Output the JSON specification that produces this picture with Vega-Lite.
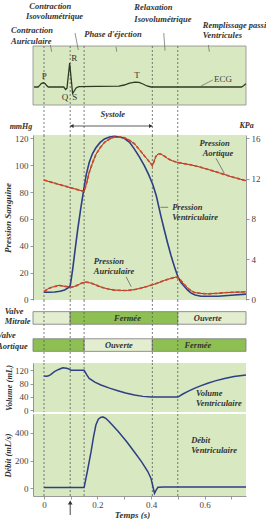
{
"$schema": "https://vega.github.io/schema/vega-lite/v6.json",
"padding": {"left": -4, "top": 0, "right": 0, "bottom": 0},
"bounds": "flush",
"spacing": 0,
"config": {
  "view": {"stroke": null},
  "font": "Liberation Serif",
  "axis": {"labelFont": "Liberation Serif", "labelFontSize": 9, "labelColor": "#444", "domainColor": "#808080", "tickColor": "#808080", "tickSize": 3, "labelPadding": 2, "labelOverlap": false, "labelFlush": false, "grid": false, "titleFont": "Liberation Serif", "titleFontStyle": "italic", "titleFontWeight": "bold", "titleFontSize": 9, "titleColor": "#333", "domainWidth": 0.8, "tickWidth": 0.8}
},
"datasets": {
  "phases": [{"t": 0}, {"t": 0.098}, {"t": 0.15}, {"t": 0.405}, {"t": 0.5}],
  "ecg": [{"t":-0.037,"mv":0},{"t":-0.022,"mv":0},{"t":-0.016,"mv":0.08},{"t":-0.01,"mv":0.17},{"t":-0.003,"mv":0.21},{"t":0.004,"mv":0.17},{"t":0.01,"mv":0.07},{"t":0.016,"mv":0},{"t":0.074,"mv":0},{"t":0.081,"mv":-0.13},{"t":0.086,"mv":-0.06},{"t":0.096,"mv":1.2},{"t":0.107,"mv":-0.33},{"t":0.113,"mv":-0.2},{"t":0.12,"mv":-0.05},{"t":0.13,"mv":0.02},{"t":0.2,"mv":0.03},{"t":0.28,"mv":0.04},{"t":0.3,"mv":0.1},{"t":0.32,"mv":0.19},{"t":0.34,"mv":0.24},{"t":0.355,"mv":0.23},{"t":0.37,"mv":0.15},{"t":0.385,"mv":0.05},{"t":0.4,"mv":0},{"t":0.738,"mv":0},{"t":0.746,"mv":0.06},{"t":0.752,"mv":0.14},{"t":0.755,"mv":0.16}],
  "pv": [{"t":0,"p":5.4},{"t":0.02,"p":5.3},{"t":0.04,"p":5.5},{"t":0.06,"p":6},{"t":0.077,"p":7},{"t":0.09,"p":8.5},{"t":0.098,"p":10},{"t":0.107,"p":22},{"t":0.117,"p":38},{"t":0.126,"p":52},{"t":0.137,"p":67},{"t":0.148,"p":81},{"t":0.158,"p":93},{"t":0.169,"p":102},{"t":0.181,"p":108.5},{"t":0.194,"p":113},{"t":0.21,"p":117},{"t":0.226,"p":119.6},{"t":0.245,"p":121},{"t":0.263,"p":121.5},{"t":0.282,"p":121},{"t":0.3,"p":120},{"t":0.32,"p":117},{"t":0.338,"p":112},{"t":0.357,"p":106},{"t":0.375,"p":99.6},{"t":0.39,"p":93.5},{"t":0.406,"p":86},{"t":0.42,"p":77},{"t":0.437,"p":62},{"t":0.45,"p":51.5},{"t":0.462,"p":42},{"t":0.475,"p":32.5},{"t":0.487,"p":24.6},{"t":0.5,"p":17},{"t":0.512,"p":12.5},{"t":0.525,"p":9.6},{"t":0.537,"p":6.8},{"t":0.55,"p":4.6},{"t":0.565,"p":3.2},{"t":0.587,"p":2.3},{"t":0.65,"p":2.3},{"t":0.7,"p":3},{"t":0.755,"p":3.9}],
  "pa": [{"t":0,"p":88.9},{"t":0.05,"p":86},{"t":0.1,"p":83.2},{"t":0.15,"p":80.4},{"t":0.16,"p":87},{"t":0.169,"p":94.6},{"t":0.181,"p":101.5},{"t":0.194,"p":108},{"t":0.21,"p":113},{"t":0.226,"p":117},{"t":0.245,"p":119.5},{"t":0.263,"p":121},{"t":0.282,"p":121},{"t":0.3,"p":120.5},{"t":0.32,"p":118.5},{"t":0.338,"p":116},{"t":0.357,"p":111.5},{"t":0.375,"p":107},{"t":0.39,"p":103.5},{"t":0.4,"p":101},{"t":0.405,"p":99.6},{"t":0.41,"p":102},{"t":0.418,"p":106.5},{"t":0.426,"p":108.3},{"t":0.434,"p":108.5},{"t":0.448,"p":107},{"t":0.462,"p":105},{"t":0.48,"p":103.2},{"t":0.5,"p":102},{"t":0.55,"p":100.2},{"t":0.587,"p":98.4},{"t":0.65,"p":94.6},{"t":0.7,"p":91.4},{"t":0.755,"p":88.4}],
  "pau": [{"t":0,"p":5.9},{"t":0.015,"p":7.8},{"t":0.031,"p":9.1},{"t":0.056,"p":10.4},{"t":0.08,"p":9.6},{"t":0.1,"p":8.9},{"t":0.113,"p":9.5},{"t":0.126,"p":10.6},{"t":0.14,"p":12},{"t":0.157,"p":12.9},{"t":0.176,"p":12.1},{"t":0.195,"p":10.6},{"t":0.213,"p":9.1},{"t":0.24,"p":7.7},{"t":0.263,"p":6.9},{"t":0.29,"p":6.6},{"t":0.313,"p":6.6},{"t":0.34,"p":7.3},{"t":0.363,"p":8.4},{"t":0.385,"p":9.6},{"t":0.406,"p":10.9},{"t":0.43,"p":12.5},{"t":0.45,"p":14.1},{"t":0.475,"p":15.6},{"t":0.493,"p":16.6},{"t":0.506,"p":15.4},{"t":0.52,"p":12},{"t":0.537,"p":8.4},{"t":0.55,"p":6.4},{"t":0.562,"p":5.1},{"t":0.585,"p":4.4},{"t":0.612,"p":4.1},{"t":0.65,"p":4.5},{"t":0.687,"p":5.1},{"t":0.755,"p":5.6}],
  "vol": [{"t":0,"v":102.7},{"t":0.008,"v":102},{"t":0.015,"v":102.5},{"t":0.025,"v":107},{"t":0.039,"v":115.7},{"t":0.055,"v":122.5},{"t":0.07,"v":127.8},{"t":0.085,"v":126},{"t":0.096,"v":123},{"t":0.1,"v":120},{"t":0.15,"v":120},{"t":0.16,"v":106},{"t":0.169,"v":95.6},{"t":0.19,"v":84},{"t":0.213,"v":75.5},{"t":0.245,"v":66},{"t":0.276,"v":58.4},{"t":0.305,"v":51.5},{"t":0.338,"v":45.3},{"t":0.37,"v":41.2},{"t":0.4,"v":39.2},{"t":0.45,"v":39},{"t":0.5,"v":39},{"t":0.505,"v":41.5},{"t":0.519,"v":48.3},{"t":0.54,"v":57},{"t":0.562,"v":65.5},{"t":0.585,"v":73},{"t":0.612,"v":80.6},{"t":0.64,"v":88},{"t":0.675,"v":95},{"t":0.71,"v":101},{"t":0.755,"v":106}],
  "deb": [{"t":0,"q":3},{"t":0.15,"q":3},{"t":0.162,"q":120},{"t":0.176,"q":264},{"t":0.185,"q":370},{"t":0.194,"q":458},{"t":0.203,"q":500},{"t":0.213,"q":515},{"t":0.222,"q":516},{"t":0.232,"q":505},{"t":0.245,"q":480},{"t":0.276,"q":415},{"t":0.31,"q":335},{"t":0.338,"q":262},{"t":0.365,"q":190},{"t":0.388,"q":120},{"t":0.4,"q":70},{"t":0.406,"q":20},{"t":0.413,"q":-39},{"t":0.419,"q":-15},{"t":0.426,"q":5},{"t":0.45,"q":8},{"t":0.755,"q":8}],
  "valves": [{"valve":"Mitrale","t1":-0.041,"t2":0.098,"etat":"Ouverte","label":"","lt":0},{"valve":"Mitrale","t1":0.098,"t2":0.5,"etat":"Fermée","label":"Fermée","lt":0.312},{"valve":"Mitrale","t1":0.5,"t2":0.755,"etat":"Ouverte","label":"Ouverte","lt":0.612},{"valve":"Aortique","t1":-0.041,"t2":0.15,"etat":"Fermée","label":"","lt":0},{"valve":"Aortique","t1":0.15,"t2":0.405,"etat":"Ouverte","label":"Ouverte","lt":0.28},{"valve":"Aortique","t1":0.405,"t2":0.755,"etat":"Fermée","label":"Fermée","lt":0.575}]
},
"vconcat": [
 {
  "width": 213, "height": 135,
  "layer": [
   {"data": {"values": [{}]}, "mark": {"type": "rect", "fill": "#d8e8c0", "stroke": "#8c8c8c", "strokeWidth": 0.8},
    "encoding": {"x": {"datum": -0.041, "type": "quantitative", "scale": {"domain": [-0.041, 0.755], "nice": false, "zero": false}, "axis": null}, "x2": {"datum": 0.755},
                 "y": {"datum": -0.9, "type": "quantitative", "scale": {"domain": [-2.4, 4.35], "nice": false, "zero": false}, "axis": null}, "y2": {"datum": 2.05}}},
   {"data": {"name": "phases"}, "mark": {"type": "rule", "color": "#5a5a5a", "strokeWidth": 0.8, "strokeDash": [2, 2]},
    "encoding": {"x": {"field": "t", "type": "quantitative", "axis": null}, "y": {"datum": 2.05, "type": "quantitative", "axis": null}, "y2": {"datum": -2.4}}},
   {"data": {"name": "ecg"}, "mark": {"type": "line", "color": "#2f3a24", "strokeWidth": 1.3},
    "encoding": {"x": {"field": "t", "type": "quantitative", "axis": null}, "y": {"field": "mv", "type": "quantitative", "axis": null}}},
   {"data": {"values": [{"t1":0.0237,"v1":2.1,"t2":0.0289,"v2":1.765},{"t1":0.116,"v1":2.7,"t2":0.1283,"v2":1.85},{"t1":0.2693,"v1":2.015,"t2":0.2719,"v2":1.765},{"t1":0.4476,"v1":2.7,"t2":0.4524,"v2":1.815},{"t1":0.6143,"v1":2.1,"t2":0.618,"v2":1.765},{"t1":0.587,"v1":0.05,"t2":0.6308,"v2":0.35}]},
    "mark": {"type": "rule", "color": "#666", "strokeWidth": 0.7},
    "encoding": {"x": {"field": "t1", "type": "quantitative", "axis": null}, "x2": {"field": "t2"}, "y": {"field": "v1", "type": "quantitative", "axis": null}, "y2": {"field": "v2"}}},
   {"data": {"values": [{"t":-0.0548,"v":4.065,"text":"Contraction"},{"t":-0.0672,"v":3.565,"text":"Isovolumétrique"},{"t":0.3377,"v":4.0,"text":"Relaxation"},{"t":0.3377,"v":3.415,"text":"Isovolumétrique"},{"t":-0.1232,"v":2.85,"text":"Contraction"},{"t":-0.1232,"v":2.3,"text":"Auriculaire"},{"t":0.1508,"v":2.635,"text":"Phase d'éjection"},{"t":0.5934,"v":3.1,"text":"Remplissage passif"},{"t":0.5934,"v":2.6,"text":"Ventricules"}]},
    "mark": {"type": "text", "align": "left", "baseline": "middle", "font": "Liberation Serif", "fontStyle": "italic", "fontWeight": "bold", "fontSize": 8.5, "color": "#333"},
    "encoding": {"x": {"field": "t", "type": "quantitative", "axis": null}, "y": {"field": "v", "type": "quantitative", "axis": null}, "text": {"field": "text"}}},
   {"data": {"values": [{"t":0.0012,"v":0.55,"text":"P"},{"t":0.1134,"v":1.435,"text":"R"},{"t":0.0786,"v":-0.485,"text":"Q"},{"t":0.1148,"v":-0.485,"text":"S"},{"t":0.3478,"v":0.6,"text":"T"}]},
    "mark": {"type": "text", "align": "center", "baseline": "middle", "font": "Liberation Serif", "fontSize": 9, "color": "#333"},
    "encoding": {"x": {"field": "t", "type": "quantitative", "axis": null}, "y": {"field": "v", "type": "quantitative", "axis": null}, "text": {"field": "text"}}},
   {"data": {"values": [{"t":0.6356,"v":0.4,"text":"ECG"}]},
    "mark": {"type": "text", "align": "left", "baseline": "middle", "font": "Liberation Serif", "fontSize": 9, "color": "#444"},
    "encoding": {"x": {"field": "t", "type": "quantitative", "axis": null}, "y": {"field": "v", "type": "quantitative", "axis": null}, "text": {"field": "text"}}},
   {"data": {"values": [{"t":0.257,"v":-1.365,"text":"Systole"}]},
    "mark": {"type": "text", "align": "center", "baseline": "middle", "font": "Liberation Serif", "fontStyle": "italic", "fontWeight": "bold", "fontSize": 8.5, "color": "#333"},
    "encoding": {"x": {"field": "t", "type": "quantitative", "axis": null}, "y": {"field": "v", "type": "quantitative", "axis": null}, "text": {"field": "text"}}},
   {"data": {"values": [{}]}, "mark": {"type": "rule", "color": "#333", "strokeWidth": 0.8},
    "encoding": {"x": {"datum": 0.098, "type": "quantitative", "axis": null}, "x2": {"datum": 0.405}, "y": {"datum": -1.95, "type": "quantitative", "axis": null}}},
   {"data": {"values": [{}]}, "mark": {"type": "point", "shape": "triangle-left", "filled": true, "color": "#333", "size": 16, "opacity": 1},
    "encoding": {"x": {"datum": 0.104, "type": "quantitative", "axis": null}, "y": {"datum": -1.95, "type": "quantitative", "axis": null}}},
   {"data": {"values": [{}]}, "mark": {"type": "point", "shape": "triangle-right", "filled": true, "color": "#333", "size": 16, "opacity": 1},
    "encoding": {"x": {"datum": 0.399, "type": "quantitative", "axis": null}, "y": {"datum": -1.95, "type": "quantitative", "axis": null}}}
  ]
 },
 {
  "width": 213, "height": 165,
  "view": {"fill": "#d8e8c0", "stroke": null},
  "resolve": {"scale": {"y": "independent"}},
  "layer": [
   {"data": {"name": "phases"}, "mark": {"type": "rule", "color": "#5a5a5a", "strokeWidth": 0.8, "strokeDash": [2, 2]},
    "encoding": {"x": {"field": "t", "type": "quantitative", "scale": {"domain": [-0.041, 0.755], "nice": false, "zero": false}, "axis": null}}},
   {"resolve": {"axis": {"y": "independent"}},
    "layer": [
     {"data": {"name": "pv"}, "mark": {"type": "line", "color": "#2e3f86", "strokeWidth": 1.6},
      "encoding": {"x": {"field": "t", "type": "quantitative", "axis": null}, "y": {"field": "p", "type": "quantitative", "scale": {"domain": [-0.5, 122.5], "nice": false, "zero": false}, "axis": {"orient": "left", "values": [0, 20, 40, 60, 80, 100, 120], "labelOverlap": false, "title": "Pression Sanguine", "titleX": -26, "titleBaseline": "middle"}}}},
     {"data": {"name": "pa"}, "mark": {"type": "line", "color": "#7d2b1f", "strokeWidth": 0.9},
      "encoding": {"x": {"field": "t", "type": "quantitative", "axis": null}, "y": {"field": "p", "type": "quantitative", "axis": null}}},
     {"data": {"name": "pa"}, "mark": {"type": "line", "color": "#d6452b", "strokeWidth": 1.7, "strokeDash": [3.5, 2]},
      "encoding": {"x": {"field": "t", "type": "quantitative", "axis": null}, "y": {"field": "p", "type": "quantitative", "axis": null}}},
     {"data": {"name": "pau"}, "mark": {"type": "line", "color": "#7d2b1f", "strokeWidth": 0.9},
      "encoding": {"x": {"field": "t", "type": "quantitative", "axis": null}, "y": {"field": "p", "type": "quantitative", "axis": null}}},
     {"data": {"name": "pau"}, "mark": {"type": "line", "color": "#d6452b", "strokeWidth": 1.7, "strokeDash": [3.5, 2]},
      "encoding": {"x": {"field": "t", "type": "quantitative", "axis": null}, "y": {"field": "p", "type": "quantitative", "axis": null}}},
     {"data": {"values": [{"t1":0.643,"p":105.1,"t2":0.674,"p2":93.9},{"t1":0.435,"p":68.6,"t2":0.464,"p2":68.6},{"t1":0.307,"p":16.8,"t2":0.326,"p2":9.4}]},
      "mark": {"type": "rule", "color": "#555", "strokeWidth": 0.7},
      "encoding": {"x": {"field": "t1", "type": "quantitative", "axis": null}, "x2": {"field": "t2"}, "y": {"field": "p", "type": "quantitative", "axis": null}, "y2": {"field": "p2"}}},
     {"data": {"values": [{"t":0.581,"p":116.7,"text":"Pression"},{"t":0.593,"p":108.8,"text":"Aortique"},{"t":0.479,"p":68.6,"text":"Pression"},{"t":0.479,"p":61.1,"text":"Ventriculaire"},{"t":0.186,"p":28.5,"text":"Pression"},{"t":0.186,"p":21.1,"text":"Auriculaire"}]},
      "mark": {"type": "text", "align": "left", "baseline": "middle", "font": "Liberation Serif", "fontStyle": "italic", "fontWeight": "bold", "fontSize": 8.5, "color": "#333"},
      "encoding": {"x": {"field": "t", "type": "quantitative", "axis": null}, "y": {"field": "p", "type": "quantitative", "axis": null}, "text": {"field": "text"}}},
     {"data": {"values": [{"t":-0.086,"p":128.4,"text":"mmHg"},{"t":0.757,"p":129.2,"text":"KPa"}]},
      "mark": {"type": "text", "align": "center", "baseline": "middle", "font": "Liberation Serif", "fontStyle": "italic", "fontWeight": "bold", "fontSize": 8, "color": "#333"},
      "encoding": {"x": {"field": "t", "type": "quantitative", "axis": null}, "y": {"field": "p", "type": "quantitative", "axis": null}, "text": {"field": "text"}}}
   ]},
   {"data": {"values": [{}]}, "mark": {"type": "point", "opacity": 0},
    "encoding": {"y": {"datum": 0, "type": "quantitative", "scale": {"domain": [-0.0667, 16.333], "nice": false, "zero": false}, "axis": {"orient": "right", "values": [0, 4, 8, 12, 16], "labelOverlap": false, "title": null}}}}
  ]
 },
 {
  "width": 213, "height": 63,
  "layer": [
   {"data": {"name": "valves"}, "mark": {"type": "rect", "stroke": "#7a7a7a", "strokeWidth": 0.8},
    "encoding": {"x": {"field": "t1", "type": "quantitative", "scale": {"domain": [-0.041, 0.755], "nice": false, "zero": false}, "axis": null}, "x2": {"field": "t2"},
                 "y": {"field": "valve", "type": "nominal", "scale": {"domain": ["Mitrale", "Aortique"], "paddingInner": 0.536, "paddingOuter": 0.429}, "axis": null},
                 "color": {"field": "etat", "type": "nominal", "scale": {"domain": ["Ouverte", "Fermée"], "range": ["#e2eecf", "#8dbf53"]}, "legend": null}}},
   {"data": {"name": "phases"}, "mark": {"type": "rule", "color": "#5a5a5a", "strokeWidth": 0.8, "strokeDash": [2, 2]},
    "encoding": {"x": {"field": "t", "type": "quantitative", "axis": null}}},
   {"data": {"name": "valves"}, "transform": [{"filter": "datum.label != ''"}],
    "mark": {"type": "text", "align": "center", "baseline": "middle", "font": "Liberation Serif", "fontStyle": "italic", "fontWeight": "bold", "fontSize": 8.5, "color": "#333"},
    "encoding": {"x": {"field": "lt", "type": "quantitative", "axis": null}, "y": {"field": "valve", "type": "nominal", "axis": null}, "text": {"field": "label"}}},
   {"data": {"values": [{"valve": "Mitrale", "name": "Valve\nMitrale", "t": -0.147}]},
    "mark": {"type": "text", "align": "left", "baseline": "top", "lineBreak": "\n", "lineHeight": 10.5, "dy": -11, "font": "Liberation Serif", "fontStyle": "italic", "fontWeight": "bold", "fontSize": 8.5, "color": "#333"},
    "encoding": {"x": {"field": "t", "type": "quantitative", "axis": null}, "y": {"field": "valve", "type": "nominal", "axis": null}, "text": {"field": "name"}}},
   {"data": {"values": [{"valve": "Aortique", "name": "Valve\nAortique", "t": -0.1756}]},
    "mark": {"type": "text", "align": "left", "baseline": "top", "lineBreak": "\n", "lineHeight": 10.5, "dy": -14, "font": "Liberation Serif", "fontStyle": "italic", "fontWeight": "bold", "fontSize": 8.5, "color": "#333"},
    "encoding": {"x": {"field": "t", "type": "quantitative", "axis": null}, "y": {"field": "valve", "type": "nominal", "axis": null}, "text": {"field": "name"}}}
  ]
 },
 {
  "bounds": "flush",
  "spacing": 2,
  "vconcat": [
   {
    "width": 213, "height": 49,
    "view": {"fill": "#d8e8c0", "stroke": null},
    "resolve": {"axis": {"y": "independent", "x": "independent"}},
    "layer": [
     {"data": {"name": "phases"}, "mark": {"type": "rule", "color": "#5a5a5a", "strokeWidth": 0.8, "strokeDash": [2, 2]},
      "encoding": {"x": {"field": "t", "type": "quantitative", "scale": {"domain": [-0.041, 0.755], "nice": false, "zero": false}, "axis": null}}},
     {"data": {"name": "vol"}, "mark": {"type": "line", "color": "#2e3f86", "strokeWidth": 1.5},
      "encoding": {"x": {"field": "t", "type": "quantitative", "axis": null}, "y": {"field": "v", "type": "quantitative", "scale": {"domain": [-6, 142], "nice": false, "zero": false}, "axis": {"orient": "left", "values": [0, 40, 80, 120], "labelOverlap": false, "title": "Volume (mL)", "titleX": -25, "titleBaseline": "middle", "titleFontSize": 8.5}}}},
     {"data": {"values": [{"t":0.568,"v":50.5,"text":"Volume"},{"t":0.568,"v":20.2,"text":"Ventriculaire"}]},
      "mark": {"type": "text", "align": "left", "baseline": "middle", "font": "Liberation Serif", "fontStyle": "italic", "fontWeight": "bold", "fontSize": 8.5, "color": "#333"},
      "encoding": {"x": {"field": "t", "type": "quantitative", "axis": null}, "y": {"field": "v", "type": "quantitative", "axis": null}, "text": {"field": "text"}}}
    ]
   },
   {
    "width": 213, "height": 82,
    "view": {"fill": "#d8e8c0", "stroke": null},
    "resolve": {"axis": {"y": "independent", "x": "independent"}},
    "layer": [
     {"data": {"name": "phases"}, "mark": {"type": "rule", "color": "#5a5a5a", "strokeWidth": 0.8, "strokeDash": [2, 2]},
      "encoding": {"x": {"field": "t", "type": "quantitative", "scale": {"domain": [-0.041, 0.755], "nice": false, "zero": false}, "axis": null}}},
     {"data": {"name": "deb"}, "mark": {"type": "line", "color": "#2e3f86", "strokeWidth": 1.5},
      "encoding": {"x": {"field": "t", "type": "quantitative", "axis": {"orient": "bottom", "values": [0, 0.1, 0.2, 0.3, 0.4, 0.5, 0.6, 0.7], "labelOverlap": false, "labelExpr": "datum.value == 0 ? '0' : ((abs(datum.value - 0.2) < 0.001 || abs(datum.value - 0.4) < 0.001 || abs(datum.value - 0.6) < 0.001) ? format(datum.value, '.1f') : '')", "labelPadding": 1, "title": "Temps (s)", "titleX": 99, "titleY": 18, "titleBaseline": "middle"}},
                   "y": {"field": "q", "type": "quantitative", "scale": {"domain": [-58, 538], "nice": false, "zero": false}, "axis": {"orient": "left", "values": [0, 200, 400], "labelOverlap": false, "title": "Débit (mL/s)", "titleX": -26, "titleBaseline": "middle", "titleFontSize": 8.5}}}},
     {"data": {"values": [{"t":0.55,"q":349,"text":"Débit"},{"t":0.55,"q":276,"text":"Ventriculaire"}]},
      "mark": {"type": "text", "align": "left", "baseline": "middle", "font": "Liberation Serif", "fontStyle": "italic", "fontWeight": "bold", "fontSize": 8.5, "color": "#333"},
      "encoding": {"x": {"field": "t", "type": "quantitative", "axis": null}, "y": {"field": "q", "type": "quantitative", "axis": null}, "text": {"field": "text"}}},
     {"data": {"values": [{}]}, "mark": {"type": "rule", "color": "#333", "strokeWidth": 0.9},
      "encoding": {"x": {"datum": 0.098, "type": "quantitative", "axis": null}, "y": {"datum": -110, "type": "quantitative", "axis": null}, "y2": {"datum": -196}}},
     {"data": {"values": [{}]}, "mark": {"type": "point", "shape": "triangle-up", "filled": true, "color": "#333", "size": 22, "opacity": 1},
      "encoding": {"x": {"datum": 0.098, "type": "quantitative", "axis": null}, "y": {"datum": -105, "type": "quantitative", "axis": null}}}
    ]
   }
  ]
 }
]
}
